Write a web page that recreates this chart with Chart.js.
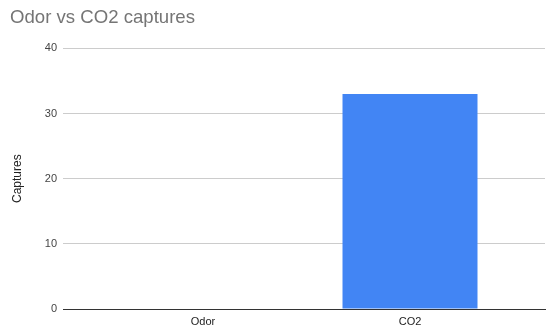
<!DOCTYPE html>
<html>
<head>
<meta charset="utf-8">
<script src="https://cdn.jsdelivr.net/npm/chart.js@4"></script>
<style>
  html, body { margin: 0; padding: 0; background: #fff; }
  #wrap { width: 546px; height: 329px; }
</style>
</head>
<body>
<div id="wrap"><canvas id="myChart"></canvas></div>
<script>
var categories = ["Odor", "CO2"];
var captures = [0, 33];
var yTicks = [0, 10, 20, 30, 40];

var points = categories.map(function (c, i) { return { x: i, y: captures[i] }; });

var ctx = document.getElementById("myChart");
var chart = new Chart(ctx, {
    type: 'bar',
    data: {
        datasets: [{
            label: "Captures",
            data: points,
            backgroundColor: "#4285f4",
            borderWidth: 0,
            barPercentage: 0.652,
            categoryPercentage: 1
        }]
    },
    options: {
        responsive: true,
        maintainAspectRatio: false,
        animation: false,
        layout: { padding: { left: 10, right: 1, top: 0, bottom: 0 } },
        plugins: {
            legend: { display: false },
            tooltip: { enabled: false },
            title: {
                display: true,
                text: "Odor vs CO2 captures",
                align: 'start',
                color: "#757575",
                font: { family: "Liberation Sans, Arial", size: 18.6, weight: 'normal' },
                padding: { top: 7, bottom: 19 }
            }
        },
        scales: {
            x: {
                type: 'linear',
                offset: false,
                bounds: 'data',
                min: -0.676,
                max: 1.652,
                grid: { display: false, drawTicks: false, offset: false },
                border: { display: true, color: "#333333", width: 1 },
                afterBuildTicks: function (scale) {
                    scale.ticks = categories.map(function (c, i) { return { value: i }; });
                },
                afterFit: function (scale) { scale.height = 20; },
                ticks: {
                    color: "#222222",
                    padding: 6,
                    font: { family: "Liberation Sans, Arial", size: 11 },
                    callback: function (v) { return categories[v]; }
                }
            },
            y: {
                min: yTicks[0],
                max: yTicks[yTicks.length - 1],
                afterBuildTicks: function (scale) {
                    scale.ticks = yTicks.map(function (v) { return { value: v }; });
                },
                afterFit: function (scale) { scale.width = 53; },
                grid: { color: "#cccccc", drawTicks: false },
                border: { display: false },
                ticks: {
                    color: "#444444",
                    padding: 6,
                    font: { family: "Liberation Sans, Arial", size: 11 }
                },
                title: {
                    display: true,
                    text: "Captures",
                    color: "#222222",
                    padding: 0,
                    font: { family: "Liberation Sans, Arial", size: 12 }
                }
            }
        }
    }
});
</script>
</body>
</html>
